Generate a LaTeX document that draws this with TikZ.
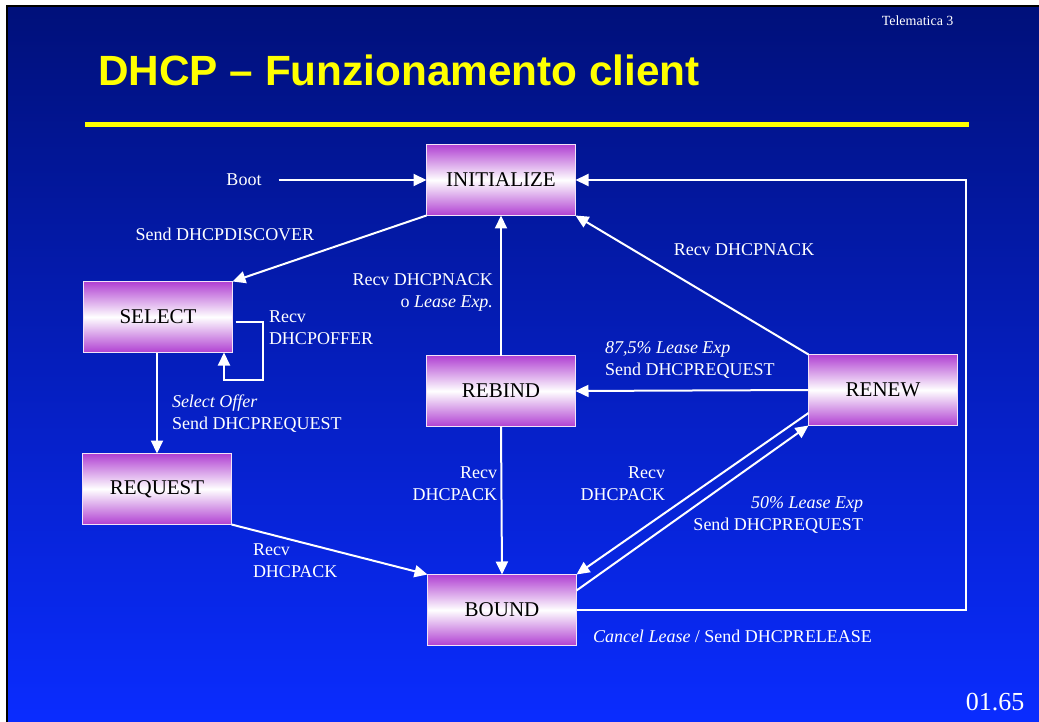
\documentclass[tikz,border=0pt]{standalone}
\usepackage{fontspec}
\setmainfont{Liberation Serif}
\newfontfamily\titolofont{Liberation Sans}
\usetikzlibrary{arrows.meta}
\definecolor{fondoalto}{RGB}{0,16,122}
\definecolor{fondobasso}{RGB}{10,44,255}
\definecolor{viola}{RGB}{176,64,210}
\definecolor{giallo}{RGB}{255,255,0}

\begin{document}
\begin{tikzpicture}[x=1pt, y=-1pt,
    stato/.style={draw=white!85!viola, line width=1.5pt,
        top color=viola, bottom color=viola, middle color=white,
        minimum width=149pt, minimum height=71pt, inner sep=0pt,
        outer sep=0pt, text=black, font=\fontsize{21}{24}\selectfont},
    etich/.style={text=white, inner sep=0pt, outer sep=0pt,
        font=\fontsize{18}{22}\selectfont},
    freccia/.style={draw=white, line width=2pt,
        -{Triangle[length=13pt, width=12pt]}},
    ]
    \useasboundingbox (0,0) rectangle (1039,722);
    \fill[white] (0,0) rectangle (1039,722);
    \fill[top color=fondoalto, bottom color=fondobasso] (7,6) rectangle (1039,722);
    \draw[black, line width=2pt] (7,722) -- (7,6) -- (1039,6);

    \node[anchor=east, text=white, font=\fontsize{14}{16}\selectfont] (telem) at (957,21) {Telematica 3};
    \node[anchor=base west, inner sep=0pt, text=giallo,
        font=\titolofont\bfseries\fontsize{42.3}{46}\selectfont] (titolo) at (98,86) {DHCP – Funzionamento client};
    \fill[giallo] (85,122) rectangle (969,127);
    \node[anchor=east, text=white, font=\fontsize{26}{30}\selectfont] (pagina) at (1028,702) {01.65};

    \node[stato] (init) at (501,180) {INITIALIZE};
    \node[stato] (select) at (158,317) {SELECT};
    \node[stato] (request) at (157,489) {REQUEST};
    \node[stato] (rebind) at (501,391) {REBIND};
    \node[stato] (renew) at (883,390) {RENEW};
    \node[stato] (bound) at (502,610) {BOUND};

    \node[etich] (boot) at (244,180) {Boot};
    \draw[freccia] ([xshift=17pt]boot.east) -- (init.west);

    \draw[freccia] (init.south west) -- (select.north east);
    \node[etich] (discover) at (225,234) {Send DHCPDISCOVER};

    \draw[freccia] ([shift={(3pt,-5pt)}]select.east) -- ++(27,0) -- ++(0,58) -| ([xshift=66pt]select.south);
    \node[etich, anchor=west, align=left] (offer) at (269,328) {Recv\\DHCPOFFER};

    \draw[freccia] ([xshift=-1pt]select.south) -- (request.north);
    \node[etich, anchor=west, align=left] (selreq) at (172,414) {\textit{Select Offer}\\Send DHCPREQUEST};

    \draw[freccia] (request.south east) -- (bound.north west);
    \node[etich, anchor=west, align=left] (ack1) at (253,561) {Recv\\DHCPACK};

    \draw[freccia] (rebind.south) -- (bound.north);
    \node[etich, anchor=east, align=right] (ack2) at (497,484) {Recv\\DHCPACK};

    \draw[freccia] (rebind.north) -- (init.south);
    \node[etich, anchor=east, align=right] (nack1) at (493,292) {Recv DHCPNACK\\o \textit{Lease Exp.}};

    \draw[freccia] (renew.north west) -- (init.south east);
    \node[etich] (nack2) at (744,250) {Recv DHCPNACK};

    \draw[freccia] (renew.west) -- (rebind.east);
    \node[etich, anchor=west, align=left] (rebreq) at (605,360) {\textit{87,5\% Lease Exp}\\Send DHCPREQUEST};

    \draw[freccia] ([yshift=-23pt]renew.west) -- (bound.north east);
    \node[etich, anchor=east, align=right] (ack3) at (665,484) {Recv\\DHCPACK};

    \draw[freccia] ([yshift=-16pt]bound.north east) -- (renew.south west);
    \node[etich, anchor=east, align=right] (renreq) at (863,515) {\textit{50\% Lease Exp}\\Send DHCPREQUEST};

    \draw[freccia] (bound.east) -| ([xshift=390pt]init.east) -- (init.east);
    \node[etich, anchor=west] (release) at (593,636) {\textit{Cancel Lease} / Send DHCPRELEASE};
\end{tikzpicture}
\end{document}
